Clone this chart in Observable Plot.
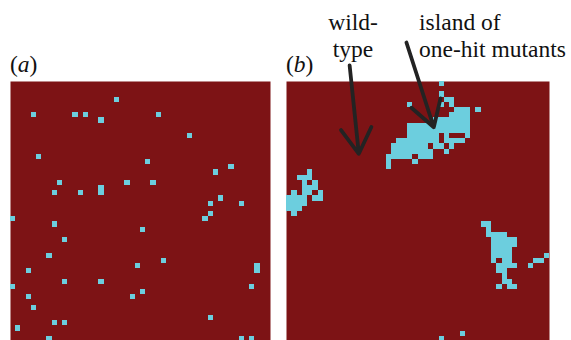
<!DOCTYPE html>
<html>
<head>
<meta charset="utf-8">
<script src="https://cdn.jsdelivr.net/npm/d3@7"></script>
<script src="https://cdn.jsdelivr.net/npm/@observablehq/plot@0.6"></script>
<style>
  html, body { margin: 0; padding: 0; background: #fff; overflow: hidden; }
  #wrap { position: relative; width: 571px; height: 340px; overflow: hidden; }
  .pan { position: absolute; top: 0; }
  .lbl { position: absolute; font-family: "Liberation Serif", "DejaVu Serif", serif; font-size: 23.5px; line-height: 27px; color: #111; white-space: nowrap; }
</style>
</head>
<body>
<div id="wrap">
  <div class="pan" id="pa" style="left:0px"></div>
  <div class="pan" id="pb" style="left:278px"></div>
  <div class="lbl" style="left:10px; top:51px">(<i>a</i>)</div>
  <div class="lbl" style="left:286px; top:51px">(<i>b</i>)</div>
  <div class="lbl" style="left:303px; width:100px; text-align:center; top:9px">wild-<br>type</div>
  <div class="lbl" style="left:419px; top:9px">island of<br>one-hit mutants</div>
</div>
<script>
// grid size (cells per side)
const gridSize = 50;

// panel (a): scattered one-hit mutants, [column, row]
const cellsA = [
  [20,3],[4,6],[12,6],[14,6],[28,6],[17,7],[34,10],[5,14],[26,15],[42,16],
  [39,17],[9,19],[22,19],[27,19],[17,20],[8,21],[13,21],[17,21],[40,22],[38,23],
  [44,23],[38,25],[37,26],[0,26],[8,27],[25,28],[10,30],[7,33],[29,34],[24,35],
  [47,35],[47,36],[3,36],[10,38],[17,38],[0,39],[46,39],[25,40],[3,41],[23,41],
  [4,43],[38,45],[8,46],[10,46],[1,47],[7,49],[44,49],[46,49]
];

// panel (b): islands, listed as [row, [columns]]
const rowsB = [
  [0,  [29]],
  [2,  [29]],
  [3,  [30,31]],
  [4,  [23,29,31]],
  [5,  [32,33,34,36]],
  [6,  [31,32,33,34]],
  [7,  [28,29,30,31,32,33,34]],
  [8,  [23,24,25,26,27,28,29,30,31,32,33,34]],
  [9,  [23,24,25,26,27,28,29,30,31,32,33,34]],
  [10, [23,24,25,26,27,28,30,34]],
  [11, [21,22,23,24,25,26,27,28,30,31,32,33]],
  [12, [20,21,22,23,24,25,26,28,29,31]],
  [13, [20,21,22,23,24,25,26,27,30]],
  [14, [19,20,21,22,23,25,26,27]],
  [15, [19,24]],
  [16, [19]],
  [17, [4]],
  [18, [2,3,4]],
  [19, [3,5]],
  [20, [3,4,5]],
  [21, [1,3,4,6]],
  [22, [0,1,2,3,5,6]],
  [23, [0,1,2,3]],
  [24, [0,1,2]],
  [25, [1]],
  [27, [37,38]],
  [28, [38]],
  [29, [38,39,40,41]],
  [30, [39,40,41,42,43]],
  [31, [39,40,41,42,43]],
  [32, [39,40,41,42]],
  [33, [39,40,41,42,49]],
  [34, [39,41,42,47,48]],
  [35, [40,41,42,43,46]],
  [36, [40,41]],
  [37, [41]],
  [38, [41,42]],
  [39, [40,42,43]],
  [48, [33]],
  [49, [29]]
];

// annotation arrows in panel (b) grid units
const arrowsB = [
  {x1: 12.0, y1: -3.1, x2: 13.75, y2: 13.9},
  {x1: 22.8, y1: -7.5, x2: 28.0, y2: 8.8}
];

const wildColor = "#7d1315";
const mutantColor = "#6ccede";

const dataA = cellsA.map(([c, r]) => ({c, r}));
const dataB = rowsB.flatMap(([r, cols]) => cols.map(c => ({c, r})));

function panel(data, opts, extra) {
  return Plot.plot({
    width: opts.width,
    height: 341,
    marginTop: 81,
    marginBottom: 0,
    marginLeft: opts.ml,
    marginRight: opts.mr,
    style: {background: "transparent", overflow: "visible"},
    x: {domain: [0, gridSize], axis: null},
    y: {domain: [0, gridSize], reverse: true, axis: null},
    marks: [
      Plot.frame({fill: wildColor, stroke: "none"}),
      Plot.rect(data, {
        x1: d => d.c, x2: d => d.c + 1,
        y1: d => d.r, y2: d => d.r + 1,
        fill: mutantColor, shapeRendering: "crispEdges"
      }),
      ...(extra || [])
    ]
  });
}

document.getElementById("pa").appendChild(panel(dataA, {width: 278, ml: 10, mr: 8}));
document.getElementById("pb").appendChild(panel(dataB, {width: 293, ml: 8, mr: 22}, [
  Plot.arrow(arrowsB, {x1: "x1", y1: "y1", x2: "x2", y2: "y2", stroke: "#232323", strokeWidth: 3.8, headLength: 15, headAngle: 62})
]));
</script>
</body>
</html>
